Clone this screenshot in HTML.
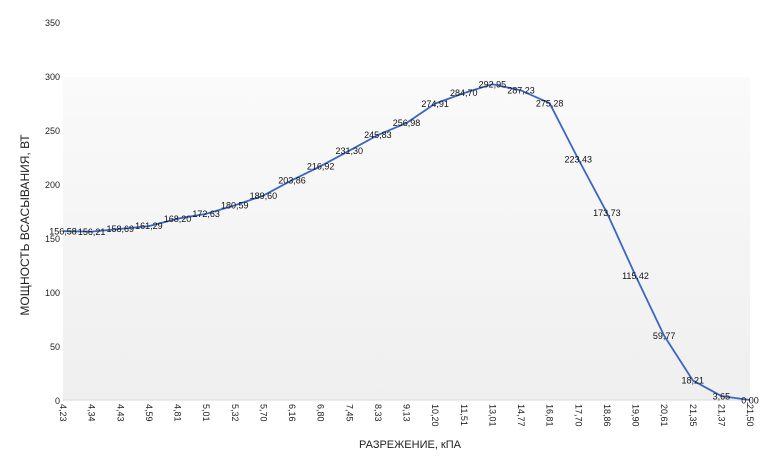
<!DOCTYPE html>
<html><head><meta charset="utf-8"><style>
html,body{margin:0;padding:0;background:#fff;}
svg{display:block;font-family:"Liberation Sans","DejaVu Sans",sans-serif;}
</style></head><body>
<svg width="780" height="462" viewBox="0 0 780 462" xmlns="http://www.w3.org/2000/svg">
<defs><linearGradient id="g" x1="0" y1="0" x2="0" y2="1">
<stop offset="0" stop-color="#fafafa"/><stop offset="1" stop-color="#efefef"/></linearGradient></defs>
<rect x="63" y="77" width="687" height="323" fill="url(#g)"/>
<line x1="63" y1="400" x2="752" y2="400" stroke="#d8d8d8" stroke-width="1"/>
<g font-size="9" fill="#222" text-anchor="end">
<text x="60" y="26">350</text><text x="60" y="80">300</text><text x="60" y="134">250</text>
<text x="60" y="188">200</text><text x="60" y="242">150</text><text x="60" y="296">100</text>
<text x="60" y="350">50</text><text x="60" y="404">0</text>
</g>
<text transform="translate(29,225) rotate(-90)" font-size="12" fill="#222" text-anchor="middle">МОЩНОСТЬ ВСАСЫВАНИЯ, ВТ</text>
<text x="410" y="448" font-size="11" fill="#222" text-anchor="middle">РАЗРЕЖЕНИЕ, кПА</text>
<g font-size="9" fill="#222">
<text transform="translate(60,404) rotate(90)">4,23</text>
<text transform="translate(88.6,404) rotate(90)">4,34</text>
<text transform="translate(117.3,404) rotate(90)">4,43</text>
<text transform="translate(145.9,404) rotate(90)">4,59</text>
<text transform="translate(174.5,404) rotate(90)">4,81</text>
<text transform="translate(203.1,404) rotate(90)">5,01</text>
<text transform="translate(231.8,404) rotate(90)">5,32</text>
<text transform="translate(260.4,404) rotate(90)">5,70</text>
<text transform="translate(289,404) rotate(90)">6,16</text>
<text transform="translate(317.6,404) rotate(90)">6,80</text>
<text transform="translate(346.3,404) rotate(90)">7,45</text>
<text transform="translate(374.9,404) rotate(90)">8,33</text>
<text transform="translate(403.5,404) rotate(90)">9,13</text>
<text transform="translate(432.1,404) rotate(90)">10,20</text>
<text transform="translate(460.8,404) rotate(90)">11,51</text>
<text transform="translate(489.4,404) rotate(90)">13,01</text>
<text transform="translate(518,404) rotate(90)">14,77</text>
<text transform="translate(546.6,404) rotate(90)">16,81</text>
<text transform="translate(575.3,404) rotate(90)">17,70</text>
<text transform="translate(603.9,404) rotate(90)">18,86</text>
<text transform="translate(632.5,404) rotate(90)">19,90</text>
<text transform="translate(661.1,404) rotate(90)">20,61</text>
<text transform="translate(689.8,404) rotate(90)">21,35</text>
<text transform="translate(718.4,404) rotate(90)">21,37</text>
<text transform="translate(747,404) rotate(90)">21,50</text>
</g>
<polyline fill="none" stroke="#3a66c4" stroke-width="1.8" stroke-linejoin="round" points="63,231.2 91.6,231.6 120.3,228.9 148.9,226.1 177.5,218.7 206.1,213.9 234.8,205.3 263.4,195.6 292,180.2 320.6,166.2 349.3,150.7 377.9,135 406.5,123 435.1,103.6 463.8,93.1 492.4,84.2 521,90.4 549.6,103.2 578.3,159.1 606.9,212.7 635.5,275.6 664.1,335.6 692.8,380.4 721.4,396.1 750,400"/>
<g font-size="9" fill="#111" text-anchor="middle">
<text x="63" y="234.5">156,58</text><text x="91.6" y="235">156,21</text><text x="120.3" y="232">158,69</text>
<text x="148.9" y="229">161,29</text><text x="177.5" y="222">168,20</text><text x="206.1" y="217">172,63</text>
<text x="234.8" y="208.5">180,59</text><text x="263.4" y="199">189,60</text><text x="292" y="183.5">203,86</text>
<text x="320.6" y="169.5">216,92</text><text x="349.3" y="154">231,30</text><text x="377.9" y="138">245,83</text>
<text x="406.5" y="126">256,98</text><text x="435.1" y="107">274,91</text><text x="463.8" y="96">284,70</text>
<text x="492.4" y="87.5">292,95</text><text x="521" y="93.5">287,23</text><text x="549.6" y="106.5">275,28</text>
<text x="578.3" y="162.5">223,43</text><text x="606.9" y="216">173,73</text><text x="635.5" y="279">115,42</text>
<text x="664.1" y="339">59,77</text><text x="692.8" y="383.5">18,21</text><text x="721.4" y="399.5">3,65</text>
<text x="750" y="403.5">0,00</text>
</g>
</svg>
</body></html>
